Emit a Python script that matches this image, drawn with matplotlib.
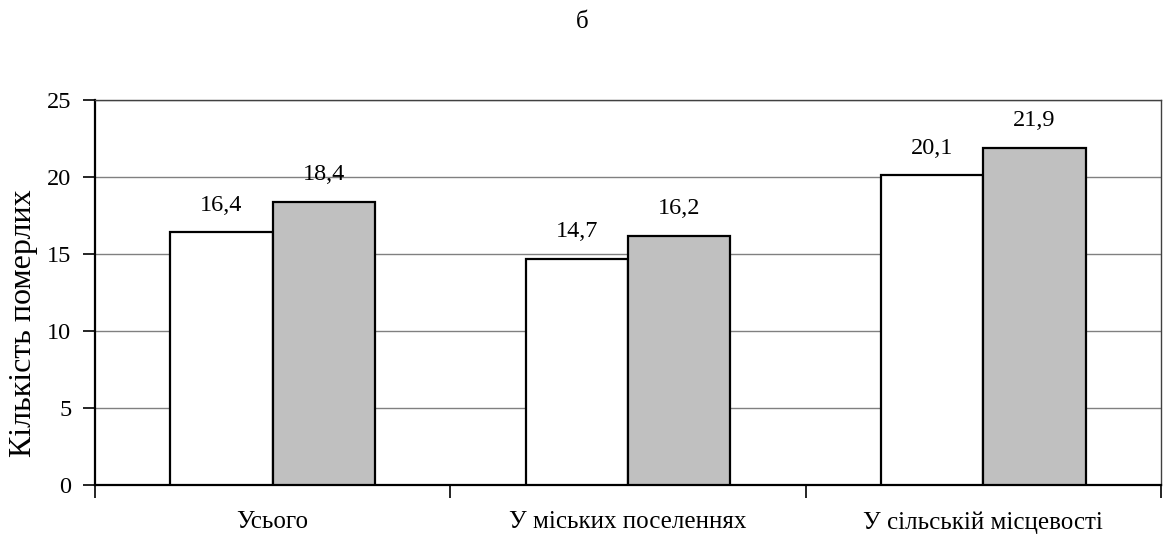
import matplotlib
matplotlib.use("Agg")
import matplotlib.pyplot as plt
import numpy as np

categories = ["Усього", "У міських поселеннях", "У сільській місцевості"]
series_a = [16.4, 14.7, 20.1]
series_b = [18.4, 16.2, 21.9]
y_ticks = [0, 5, 10, 15, 20, 25]

plt.rcParams['font.family'] = ['Liberation Serif', 'DejaVu Serif']

fig = plt.figure(figsize=(11.64, 5.38), dpi=100)
ax = fig.add_axes([95/1164, 1-485/538, (1161-95)/1164, (485-100)/538])

x = np.arange(len(categories))
w = 0.288
ba = ax.bar(x - w/2, series_a, w, color='white', edgecolor='black', linewidth=1.6, zorder=3)
bb = ax.bar(x + w/2, series_b, w, color='#c0c0c0', edgecolor='black', linewidth=1.6, zorder=3)

for bars, vals in ((ba, series_a), (bb, series_b)):
    for r, v in zip(bars, vals):
        ax.annotate(f"{v:.1f}".replace('.', ','), (r.get_x() + r.get_width()/2, v),
                    xytext=(0, 12), textcoords='offset points', ha='center', va='bottom',
                    fontsize=17.5)

ax.set_xlim(-0.5, len(categories) - 0.5)
ax.set_ylim(0, 25)
ax.set_yticks(y_ticks)
ax.set_yticklabels([str(t) for t in y_ticks], fontsize=17.5)
ax.yaxis.grid(True, color='#808080', linewidth=1.0, zorder=0)
ax.set_axisbelow(True)

ax.set_xticks(np.arange(-0.5, len(categories), 1.0))
ax.set_xticklabels([])
ax.set_xticks(x, minor=True)
ax.set_xticklabels(categories, minor=True, fontsize=18)
ax.tick_params(axis='x', which='minor', length=0, pad=19)
ax.tick_params(axis='x', which='major', length=9, width=1.2, direction='out')
ax.tick_params(axis='y', length=9, width=1.2, direction='out', pad=8)

for s in ('left', 'bottom'):
    ax.spines[s].set_linewidth(1.6)
    ax.spines[s].set_color('black')
for s in ('top', 'right'):
    ax.spines[s].set_linewidth(1.0)
    ax.spines[s].set_color('#404040')

fig.text(24/1164, 1-457/538, "Кількість померлих", rotation=90, ha='center', va='bottom',
         fontsize=23)
fig.text(582/1164, 1-22/538, "б", ha='center', va='center', fontsize=18)

fig.savefig("out.png", dpi=100)
